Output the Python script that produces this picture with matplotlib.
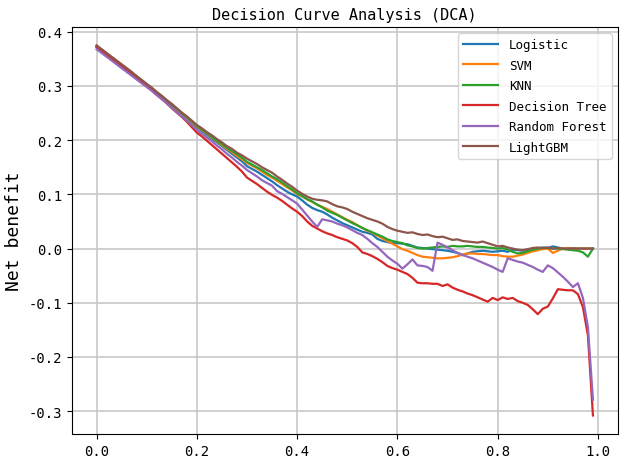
import matplotlib
matplotlib.use("Agg")
import matplotlib.pyplot as plt
import numpy as np

# decision curve analysis, net benefit per threshold
plt.rcParams['font.family'] = ['DejaVu Sans Mono']
plt.rcParams['axes.unicode_minus'] = False

thresholds = [i / 100 for i in range(100)]

logistic = [
    .372, .365, .358, .351, .344, .337, .330, .323, .316, .309,
    .301, .294, .286, .279, .271, .263, .256, .248, .240, .232,
    .224, .217, .210, .203, .196, .189, .182, .175, .168, .161,
    .152, .147, .142, .136, .130, .124, .117, .111, .105, .100,
    .096, .089, .081, .075, .071, .068, .063, .057, .052, .047,
    .043, .039, .035, .031, .029, .026, .018, .014, .012, .010,
    .010, .009, .008, .005, .002, .001, .000, -.001, -.002, -.003,
    -.004, -.006, -.008, -.012, -.009, -.006, -.005, -.004, -.005, -.006,
    -.005, -.004, -.006, -.002, -.003, -.004, -.003, -.002, .000, .002,
    .001, .004, .002, .000, .000, .001, .000, .000, .000, .000]

svm = [
    .373, .366, .359, .352, .345, .338, .331, .324, .317, .310,
    .302, .295, .287, .280, .272, .264, .257, .249, .241, .234,
    .225, .219, .212, .205, .198, .191, .184, .178, .171, .165,
    .158, .153, .148, .142, .136, .131, .125, .119, .113, .107,
    .101, .096, .091, .086, .081, .077, .073, .068, .063, .058,
    .053, .049, .043, .038, .033, .029, .024, .019, .014, .009,
    .004, -.001, -.004, -.008, -.012, -.015, -.016, -.017, -.018, -.018,
    -.017, -.016, -.014, -.011, -.009, -.009, -.010, -.010, -.011, -.012,
    -.012, -.014, -.015, -.015, -.013, -.011, -.008, -.005, -.003, -.001,
    .000, -.008, -.004, .000, .001, .000, .000, .000, .000, .000]

knn = [
    .374, .367, .360, .353, .346, .339, .332, .325, .318, .311,
    .303, .296, .288, .281, .273, .265, .258, .250, .242, .235,
    .226, .220, .213, .206, .199, .193, .186, .180, .174, .168,
    .160, .155, .150, .145, .139, .133, .128, .122, .115, .109,
    .102, .097, .091, .087, .081, .076, .070, .066, .062, .057,
    .052, .047, .043, .038, .034, .030, .026, .022, .017, .014,
    .012, .010, .006, .004, .001, .000, .001, .002, .003, .004,
    .003, .005, .004, .004, .005, .004, .003, .003, .002, .001,
    .000, .001, -.002, -.006, -.009, -.008, -.005, -.002, .000, .001,
    .001, .000, .000, -.001, -.002, -.003, -.004, -.007, -.015, .000]

decision_tree = [
    .372, .365, .358, .351, .344, .337, .330, .323, .316, .309,
    .301, .293, .284, .276, .268, .259, .251, .243, .234, .224,
    .214, .207, .199, .191, .183, .175, .167, .159, .151, .142,
    .131, .125, .119, .112, .105, .099, .094, .088, .081, .074,
    .068, .060, .050, .042, .037, .032, .028, .025, .021, .018,
    .015, .010, .003, -.007, -.010, -.014, -.019, -.025, -.032, -.036,
    -.039, -.043, -.047, -.054, -.063, -.064, -.064, -.065, -.065, -.069,
    -.066, -.072, -.076, -.079, -.083, -.086, -.090, -.094, -.098, -.091,
    -.095, -.090, -.093, -.091, -.097, -.100, -.104, -.112, -.121, -.111,
    -.107, -.092, -.075, -.076, -.077, -.077, -.084, -.108, -.160, -.308]

random_forest = [
    .368, .361, .354, .347, .340, .333, .326, .319, .312, .305,
    .298, .291, .283, .276, .268, .260, .252, .244, .236, .228,
    .219, .212, .205, .198, .190, .183, .175, .168, .160, .153,
    .145, .139, .133, .126, .121, .116, .106, .101, .095, .089,
    .083, .072, .061, .050, .040, .054, .052, .050, .046, .043,
    .039, .034, .029, .025, .018, .010, .003, -.006, -.015, -.022,
    -.028, -.037, -.029, -.020, -.031, -.032, -.034, -.041, .011, .007,
    .002, -.003, -.008, -.012, -.015, -.018, -.022, -.026, -.030, -.034,
    -.039, -.043, -.018, -.021, -.024, -.026, -.030, -.034, -.039, -.043,
    -.031, -.036, -.044, -.052, -.061, -.071, -.064, -.091, -.145, -.279]

lightgbm = [
    .375, .368, .361, .354, .347, .340, .333, .326, .318, .311,
    .304, .297, .289, .282, .274, .267, .259, .251, .244, .236,
    .228, .222, .215, .209, .202, .196, .189, .184, .177, .172,
    .166, .161, .156, .150, .145, .140, .133, .127, .120, .114,
    .107, .101, .096, .092, .090, .089, .087, .082, .078, .076,
    .073, .068, .064, .060, .056, .053, .050, .046, .040, .036,
    .033, .031, .029, .030, .027, .025, .026, .023, .021, .022,
    .019, .016, .017, .014, .013, .012, .011, .013, .010, .007,
    .004, .005, .002, .000, -.002, -.003, -.001, .001, .002, .001,
    .002, .000, .001, .000, .000, .000, .000, .000, .000, .000]

names = ['Logistic', 'SVM', 'KNN', 'Decision Tree', 'Random Forest', 'LightGBM']
series = [logistic, svm, knn, decision_tree, random_forest, lightgbm]
colors = ['#1f77b4', '#ff7f0e', '#2ca02c', '#d62728', '#9467bd', '#8c564b']

fig, ax = plt.subplots(figsize=(6.24, 4.64), dpi=100)
fig.subplots_adjust(left=0.115, right=0.99, top=0.94, bottom=0.0625)

for name, vals, c in zip(names, series, colors):
    ax.plot(thresholds, vals, color=c, lw=1.6, label=name)

ax.set_title('Decision Curve Analysis (DCA)', fontsize=11)
ax.set_ylabel('Net benefit', fontsize=13)
ax.set_xticks([0.0, 0.2, 0.4, 0.6, 0.8, 1.0])
ax.set_yticks([-0.3, -0.2, -0.1, 0.0, 0.1, 0.2, 0.3, 0.4])
ax.tick_params(labelsize=10)
ax.grid(True, color='#c8c8c8', lw=1.2)
ax.legend(loc='upper right', fontsize=9, handlelength=2.8,
          handletextpad=0.9, labelspacing=0.6)

fig.savefig('out.png')
